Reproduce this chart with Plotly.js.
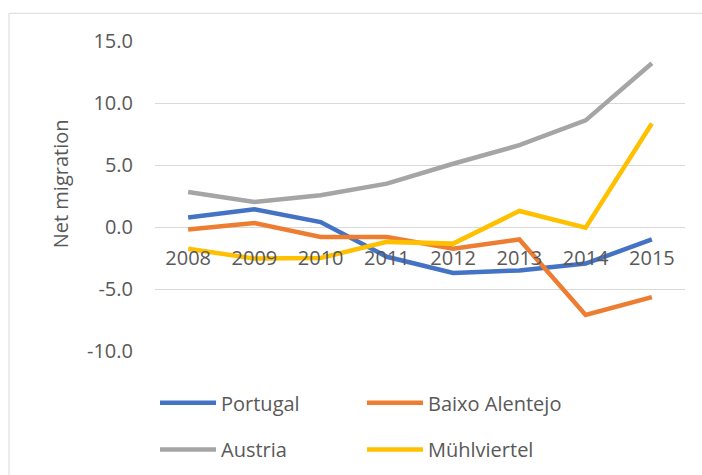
<!DOCTYPE html>
<html>
<head>
<meta charset="utf-8">
<script src="https://cdn.plot.ly/plotly-3.0.1.min.js"></script>
<style>html,body{margin:0;padding:0;background:#fff;}#chart{width:702px;height:475px;}</style>
</head>
<body>
<div id="chart"></div>
<script>
var years = ["2008","2009","2010","2011","2012","2013","2014","2015"];
var portugal = [0.76, 1.43, 0.4, -2.4, -3.7, -3.5, -2.95, -1.0];
var baixoAlentejo = [-0.21, 0.32, -0.8, -0.8, -1.75, -1.0, -7.1, -5.65];
var austria = [2.82, 2.02, 2.56, 3.5, 5.1, 6.6, 8.6, 13.2];
var muehlviertel = [-1.75, -2.55, -2.5, -1.2, -1.34, 1.29, -0.05, 8.34];
var yTicks = [-10, -5, 0, 5, 10, 15];
var yTickLabels = ["-10.0", "-5.0", "0.0", "5.0", "10.0", "15.0"];

var FONT = "Open Sans, sans-serif";
var TXT = "#595959";

function tr(name, y, color, legend) {
  return {x: years, y: y, name: name, type: "scatter", mode: "lines",
    line: {color: color, width: 4.5}, legend: legend};
}
var data = [
  tr("Portugal", portugal, "#4472C4", "legend"),
  tr("Baixo Alentejo", baixoAlentejo, "#ED7D31", "legend"),
  tr("Austria", austria, "#A5A5A5", "legend2"),
  tr("Mühlviertel", muehlviertel, "#FFC000", "legend2")
];

var legendBase = {orientation: "h", x: 0.0, xanchor: "left", yanchor: "middle",
  font: {family: FONT, size: 20, color: TXT}, itemwidth: 56, entrywidth: 136,
  bgcolor: "rgba(0,0,0,0)", traceorder: "normal"};

var layout = {
  width: 702, height: 475,
  margin: {l: 155, r: 17, t: 40.7, b: 124.3, autoexpand: false},
  paper_bgcolor: "#ffffff", plot_bgcolor: "#ffffff",
  font: {family: FONT, size: 20, color: TXT},
  showlegend: true,
  xaxis: {type: "category", anchor: "free", position: 0.4, showgrid: false,
    zeroline: false, showline: false, ticks: "outside", ticklen: 13,
    tickcolor: "rgba(0,0,0,0)", tickfont: {family: FONT, size: 20, color: TXT},
    range: [-0.5, 7.5], fixedrange: true, automargin: false},
  yaxis: {range: [-10, 15], tickvals: yTicks, ticktext: yTickLabels, showgrid: true,
    gridcolor: "#d9d9d9", gridwidth: 1, zeroline: false, showline: false,
    ticks: "outside", ticklen: 17, tickcolor: "rgba(0,0,0,0)",
    tickfont: {family: FONT, size: 20, color: TXT}, fixedrange: true, automargin: false},
  legend: Object.assign({}, legendBase, {y: -0.167}),
  legend2: Object.assign({}, legendBase, {y: -0.318}),
  annotations: [{text: "Net migration", xref: "paper", yref: "paper",
    x: (60 - 155) / 530, y: (350.7 - 184) / 310, textangle: -90,
    showarrow: false, xanchor: "center", yanchor: "middle",
    font: {family: FONT, size: 20, color: TXT}}],
  shapes: [{type: "rect", xref: "paper", yref: "paper", layer: "below",
    x0: (9 - 155) / 530, x1: (720 - 155) / 530,
    y0: (350.7 - 490) / 310, y1: (350.7 - 13) / 310,
    line: {color: "#d9d9d9", width: 1}, fillcolor: "rgba(0,0,0,0)"}]
};

Plotly.newPlot("chart", data, layout, {displayModeBar: false, staticPlot: true});
</script>
</body>
</html>
